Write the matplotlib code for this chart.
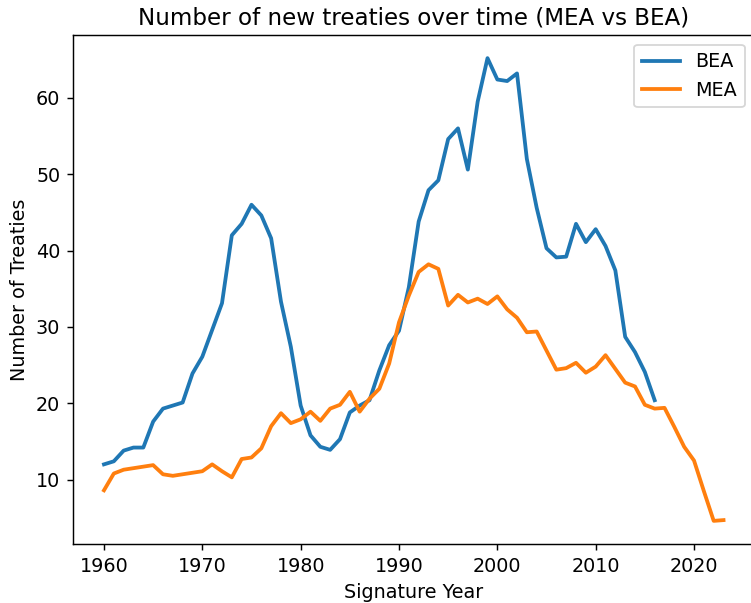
import matplotlib
matplotlib.use("Agg")
import matplotlib.pyplot as plt

# ---------------- Data ---------------- #
bea_years = list(range(1960, 2017))
bea_counts = [
    12.0, 12.4, 13.8, 14.2, 14.2, 17.6, 19.3, 19.7, 20.1, 23.9,
    26.1, 29.6, 33.1, 42.0, 43.5, 46.0, 44.6, 41.6, 33.3, 27.4,
    19.7, 15.8, 14.3, 13.9, 15.3, 18.8, 19.7, 20.4, 24.3, 27.6,
    29.5, 35.2, 43.8, 47.9, 49.2, 54.6, 56.0, 50.6, 59.5, 65.2,
    62.4, 62.2, 63.2, 52.0, 45.6, 40.3, 39.1, 39.2, 43.5, 41.1,
    42.8, 40.6, 37.4, 28.7, 26.7, 24.1, 20.4,
]

mea_years = list(range(1960, 2024))
mea_counts = [
    8.6, 10.8, 11.3, 11.5, 11.7, 11.9, 10.7, 10.5, 10.7, 10.9,
    11.1, 12.0, 11.1, 10.3, 12.7, 12.9, 14.1, 17.0, 18.7, 17.4,
    17.9, 18.9, 17.7, 19.3, 19.8, 21.5, 18.9, 20.6, 21.9, 25.2,
    30.6, 34.1, 37.2, 38.2, 37.6, 32.8, 34.2, 33.2, 33.7, 33.0,
    34.0, 32.3, 31.2, 29.3, 29.4, 26.9, 24.4, 24.6, 25.3, 24.0,
    24.8, 26.3, 24.5, 22.7, 22.2, 19.8, 19.3, 19.4, 16.9, 14.3,
    12.5, 8.5, 4.6, 4.7,
]

# ---------------- Plot ---------------- #
DPI = 130
plt.rcParams["font.size"] = 10.6
fig = plt.figure(figsize=(751 / DPI, 603 / DPI), dpi=DPI)
ax = fig.add_axes([73 / 751, 1 - 544 / 603, 681.5 / 751, 509 / 603])

ax.plot(bea_years, bea_counts, color="tab:blue", linewidth=2.1, label="BEA")
ax.plot(mea_years, mea_counts, color="tab:orange", linewidth=2.1, label="MEA")

ax.set_title("Number of new treaties over time (MEA vs BEA)")
ax.set_xlabel("Signature Year")
ax.set_ylabel("Number of Treaties")
ax.legend(loc="upper right")

fig.savefig("out.png", dpi=DPI)
